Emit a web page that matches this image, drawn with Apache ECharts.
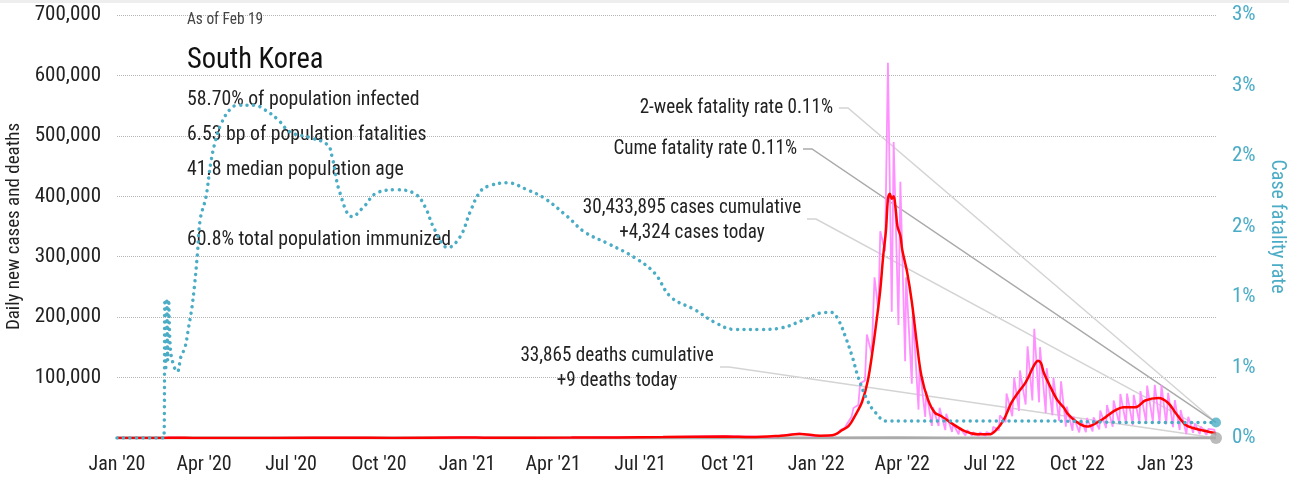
<!DOCTYPE html>
<html>
<head>
<meta charset="utf-8">
<title>South Korea COVID-19</title>
<script src="https://cdn.jsdelivr.net/npm/echarts@6/dist/echarts.min.js"></script>
<style>
  html, body { margin: 0; padding: 0; background: #fff; }
  #chart { width: 1289px; height: 480px; }
</style>
</head>
<body>
<div id="chart"></div>
<script>
// Quarter ticks along the date axis
const quarterTicks = ['2020-01-01','2020-04-01','2020-07-01','2020-10-01','2021-01-01','2021-04-01',
  '2021-07-01','2021-10-01','2022-01-01','2022-04-01','2022-07-01','2022-10-01','2023-01-01'];
const monthNames = ['Jan','Feb','Mar','Apr','May','Jun','Jul','Aug','Sep','Oct','Nov','Dec'];

// Daily new cases (weekly low / high readings)
const caseDates = ['2020-01-01','2020-02-17','2020-02-29','2020-03-15','2020-04-15','2020-06-01','2020-08-27','2020-10-01',
  '2020-11-30','2020-12-25','2021-02-01','2021-04-15','2021-07-15','2021-09-25','2021-11-15','2021-12-15','2021-12-27',
  '2022-01-03','2022-01-05','2022-01-10','2022-01-12','2022-01-17','2022-01-19','2022-01-24','2022-01-26',
  '2022-01-31','2022-02-02','2022-02-07','2022-02-09','2022-02-14','2022-02-16','2022-02-21','2022-02-23',
  '2022-02-28','2022-03-03','2022-03-07','2022-03-09','2022-03-14','2022-03-17','2022-03-21','2022-03-23',
  '2022-03-28','2022-03-30','2022-04-04','2022-04-05','2022-04-11','2022-04-12','2022-04-18','2022-04-19',
  '2022-04-25','2022-04-26','2022-05-02','2022-05-03','2022-05-09','2022-05-10','2022-05-16','2022-05-17',
  '2022-05-23','2022-05-24','2022-05-30','2022-05-31','2022-06-06','2022-06-08','2022-06-13','2022-06-14',
  '2022-06-20','2022-06-21','2022-06-27','2022-06-28','2022-07-04','2022-07-05','2022-07-11','2022-07-12',
  '2022-07-18','2022-07-19','2022-07-25','2022-07-27','2022-08-01','2022-08-02','2022-08-08','2022-08-10',
  '2022-08-15','2022-08-17','2022-08-22','2022-08-23','2022-08-29','2022-08-30','2022-09-05','2022-09-06',
  '2022-09-12','2022-09-14','2022-09-19','2022-09-20','2022-09-26','2022-09-27','2022-10-03','2022-10-05',
  '2022-10-10','2022-10-11','2022-10-17','2022-10-18','2022-10-24','2022-10-25','2022-10-31','2022-11-01',
  '2022-11-07','2022-11-08','2022-11-14','2022-11-15','2022-11-21','2022-11-22','2022-11-28','2022-11-29',
  '2022-12-05','2022-12-06','2022-12-12','2022-12-13','2022-12-19','2022-12-21','2022-12-26','2022-12-28',
  '2023-01-02','2023-01-04','2023-01-09','2023-01-11','2023-01-16','2023-01-17','2023-01-23','2023-01-25',
  '2023-01-30','2023-02-01','2023-02-06','2023-02-07','2023-02-13','2023-02-15','2023-02-21','2023-02-23'];
const dailyCases = [0,0,900,100,30,40,440,100,
  450,1240,300,700,1600,3270,2000,7850,3000,
  3800,4400,3000,4400,4100,5800,7500,13000,
  17000,22900,35300,49500,54600,90400,95300,171400,
  139600,266000,210000,342000,309000,621000,209000,490000,
  187000,424000,127000,266000,90000,210000,47000,118000,
  35000,77000,20000,51000,20000,50000,13000,40000,
  10000,24000,6000,17000,4400,13000,3800,9400,
  3400,9300,3400,9900,6200,18500,12700,37300,
  26300,73600,35900,100000,44700,111800,55300,151700,
  62100,180800,59000,150300,41400,115600,37500,99800,
  28200,93900,18800,51900,12100,35600,9300,30500,
  9600,33200,11000,34100,14200,45500,16400,54700,
  18600,62200,23000,72800,23100,73500,21400,71400,
  25700,77600,25600,86800,26600,88100,25500,87500,
  22700,74700,17900,62700,13200,46400,6400,35100,
  8700,24000,6400,19100,5200,15200,14000,4324];

// 7-day average of new cases
const avgDates = ['2020-01-01','2020-02-17','2020-03-03','2020-03-20','2020-05-01','2020-06-15','2020-08-30','2020-10-15',
  '2020-12-25','2021-01-25','2021-04-20','2021-07-25','2021-09-28','2021-10-25','2021-11-25','2021-12-15',
  '2022-01-05','2022-01-14','2022-01-21','2022-01-28','2022-02-04','2022-02-11','2022-02-18','2022-02-24',
  '2022-03-01','2022-03-06','2022-03-09','2022-03-12','2022-03-15','2022-03-17','2022-03-19','2022-03-21',
  '2022-03-23','2022-03-25','2022-03-27','2022-03-30','2022-04-01','2022-04-06','2022-04-11','2022-04-16',
  '2022-04-21','2022-04-28','2022-05-05','2022-05-12','2022-05-22','2022-06-06','2022-06-19','2022-07-01',
  '2022-07-08','2022-07-16','2022-07-24','2022-07-31','2022-08-08','2022-08-17','2022-08-21','2022-08-24',
  '2022-08-27','2022-09-03','2022-09-10','2022-09-17','2022-09-21','2022-09-30','2022-10-11','2022-10-21',
  '2022-10-31','2022-11-10','2022-11-18','2022-12-01','2022-12-11','2022-12-25','2023-01-04','2023-01-12',
  '2023-01-22','2023-01-29','2023-02-08','2023-02-16','2023-02-23'];
const avgCases = [0,0,580,120,10,45,350,80,
  1030,400,650,1500,2400,1500,3800,6600,
  3800,4000,6000,13000,20000,38000,60000,95000,
  145000,205000,245000,300000,345000,395000,404000,396000,
  400000,380000,350000,335000,311000,275000,225000,160000,
  103000,63000,42000,36000,25000,11000,6000,6000,
  13000,30000,58000,75000,92000,121000,128000,124000,
  108000,84000,63000,50000,40000,27000,19000,25000,
  35000,46000,51000,51000,62000,66000,58000,41000,
  22000,17000,13000,10000,8000];

// Case fatality rate, percent
const cfrDates = ['2020-01-01','2020-02-19','2020-02-20','2020-02-21','2020-02-22','2020-02-23','2020-02-24','2020-02-26',
  '2020-03-01','2020-03-04','2020-03-08','2020-03-12','2020-03-16','2020-03-19','2020-03-22','2020-03-25','2020-03-28',
  '2020-04-03','2020-04-08','2020-04-13','2020-04-19','2020-04-28','2020-05-06','2020-05-24','2020-06-03','2020-06-17',
  '2020-06-30','2020-07-21','2020-08-08','2020-08-13','2020-08-21','2020-09-03','2020-09-15','2020-09-29','2020-10-20',
  '2020-11-08','2020-11-18','2020-11-28','2020-12-12','2020-12-25','2021-01-04','2021-01-15','2021-01-25','2021-02-12',
  '2021-03-05','2021-03-23','2021-04-16','2021-05-04','2021-05-28','2021-06-25','2021-07-16','2021-08-02','2021-08-27',
  '2021-09-17','2021-10-08','2021-11-04','2021-11-25','2021-12-20','2022-01-10','2022-01-17','2022-01-24','2022-02-01',
  '2022-02-08','2022-02-14','2022-02-24','2022-03-04','2022-03-15','2022-03-29','2022-06-01','2022-09-01','2022-12-01',
  '2023-02-23'];
const cfrPct = [0,0,0.96,0.50,0.99,0.55,0.98,0.62,
  0.50,0.47,0.58,0.64,0.79,0.91,1.08,1.30,1.55,
  1.71,1.95,2.11,2.23,2.33,2.36,2.36,2.33,2.26,
  2.17,2.13,2.08,1.99,1.74,1.57,1.64,1.74,1.76,
  1.73,1.64,1.48,1.35,1.43,1.60,1.75,1.79,1.81,
  1.76,1.70,1.57,1.46,1.38,1.28,1.17,1.00,0.91,
  0.82,0.77,0.77,0.78,0.84,0.89,0.89,0.84,0.71,
  0.57,0.43,0.26,0.18,0.12,0.12,0.12,0.12,0.11,
  0.11];

// Daily new deaths
const deathDates = ['2020-01-01','2020-03-15','2020-09-01','2020-12-25','2021-06-01','2021-12-20','2022-03-25',
  '2022-05-15','2022-07-01','2022-08-25','2022-10-15','2022-12-25','2023-02-23'];
const dailyDeaths = [0,6,3,20,2,70,380,40,10,60,20,50,9];

const FONT = "'Liberation Sans Narrow', 'Roboto Condensed', 'DejaVu Sans Condensed', sans-serif";
const TEAL = '#4bacc6';

// 'YYYY-MM-DD' -> timestamp (UTC midnight)
function toTime(s) {
  const p = s.split('-').map(Number);
  return Date.UTC(p[0], p[1] - 1, p[2]);
}
function pairs(dates, vals) {
  return dates.map((d, i) => [toTime(d), vals[i]]);
}

const casesData = pairs(caseDates, dailyCases);
const avgData = pairs(avgDates, avgCases);
const cfrData = pairs(cfrDates, cfrPct);
const deathData = pairs(deathDates, dailyDeaths);
const lastCfr = cfrData[cfrData.length - 1];
const lastDeath = deathData[deathData.length - 1];
const lastCase = casesData[casesData.length - 1];

const chart = echarts.init(document.getElementById('chart'));

const option = {
  animation: false,
  backgroundColor: '#fff',
  textStyle: { fontFamily: FONT },
  grid: { left: 117, right: 73, top: 15, bottom: 42, containLabel: false, outerBoundsMode: 'none' },
  xAxis: {
    type: 'value',
    min: toTime('2020-01-01'),
    max: toTime('2023-02-23'),
    axisLine: { show: false },
    axisTick: { show: false },
    splitLine: { show: false },
    axisLabel: {
      customValues: quarterTicks.map(toTime),
      color: '#222',
      fontSize: 20,
      margin: 17,
      fontFamily: FONT,
      hideOverlap: false,
      showMinLabel: true,
      showMaxLabel: true,
      formatter: function (v) {
        const d = new Date(v);
        return monthNames[d.getUTCMonth()] + " '" + String(d.getUTCFullYear()).slice(2);
      }
    }
  },
  yAxis: [{
    type: 'value',
    min: 0, max: 700000, interval: 100000,
    axisLine: { show: false },
    axisTick: { show: false },
    splitLine: { lineStyle: { type: 'dotted', color: '#b5b5b5', width: 1 } },
    axisLabel: {
      color: '#222', fontSize: 21, margin: 16, fontFamily: FONT,
      formatter: v => v === 0 ? '' : v.toLocaleString('en-US')
    },
    name: 'Daily new cases and deaths',
    nameLocation: 'middle',
    nameRotate: 90,
    nameGap: 85,
    nameTextStyle: { color: '#222', fontSize: 19, fontFamily: FONT }
  }, {
    type: 'value',
    position: 'right',
    min: 0, max: 3, interval: 0.5,
    axisLine: { show: false },
    axisTick: { show: false },
    splitLine: { show: false },
    axisLabel: {
      color: TEAL, fontSize: 21, margin: 16, fontFamily: FONT,
      formatter: v => Math.round(v) + '%'
    },
    name: 'Case fatality rate',
    nameLocation: 'middle',
    nameRotate: -90,
    nameGap: 43,
    nameTextStyle: { color: TEAL, fontSize: 20, fontFamily: FONT }
  }],
  series: [{
    name: 'Daily deaths',
    type: 'line',
    data: deathData,
    symbol: 'none',
    lineStyle: { color: '#aaaaaa', width: 3 },
    z: 2
  }, {
    name: 'Daily cases',
    type: 'line',
    data: casesData,
    symbol: 'none',
    lineStyle: { color: '#ff90ff', width: 1.8 },
    z: 3
  }, {
    name: '7-day average',
    type: 'line',
    data: avgData,
    symbol: 'none',
    smooth: 0.35,
    lineStyle: { color: '#ff0000', width: 2.5 },
    z: 4
  }, {
    name: 'Case fatality rate',
    type: 'line',
    yAxisIndex: 1,
    data: cfrData,
    symbol: 'none',
    smooth: 0.4,
    lineStyle: { color: TEAL, width: 3.5, type: [0.01, 6.5], cap: 'round' },
    z: 5
  }, {
    name: 'Fatality rate now',
    type: 'scatter',
    yAxisIndex: 1,
    data: [lastCfr],
    symbol: 'circle',
    symbolSize: 10,
    itemStyle: { color: TEAL },
    z: 6
  }, {
    name: 'Deaths now',
    type: 'scatter',
    data: [lastDeath],
    symbol: 'circle',
    symbolSize: 12,
    itemStyle: { color: '#aaaaaa' },
    z: 6
  }]
};

chart.setOption(option);

// Notes and leader lines tied to the latest readings
const cfrPx = chart.convertToPixel({ xAxisIndex: 0, yAxisIndex: 1 }, lastCfr);
const deathPx = chart.convertToPixel({ xAxisIndex: 0, yAxisIndex: 0 }, lastDeath);
const casePx = chart.convertToPixel({ xAxisIndex: 0, yAxisIndex: 0 }, lastCase);

function note(text, x, y, align, size, color, sx) {
  return {
    type: 'text', x: x, y: y, z: 1,
    scaleX: sx || 0.91,
    style: {
      text: text, fill: color || '#222', fontSize: size || 21, fontFamily: FONT,
      align: align || 'left', verticalAlign: 'middle'
    }
  };
}
function leader(x0, y0, end, color) {
  return {
    type: 'polyline', z: 1,
    shape: { points: [[x0, y0], [x0 + 9, y0], end] },
    style: { stroke: color, lineWidth: 1.5, fill: null }
  };
}

chart.setOption({
  graphic: [
    { type: 'rect', shape: { x: 0, y: 0, width: 1289, height: 3 }, style: { fill: '#eeeeee' }, z: 0 },
    note('As of Feb 19', 187, 20, 'left', 16, '#444', 0.96),
    note('South Korea', 187, 60, 'left', 30, '#111', 0.95),
    note('58.70% of population infected', 187, 100, 'left', 21, '#222', 0.94),
    note('6.53 bp of population fatalities', 187, 135, 'left', 21, '#222', 0.94),
    note('41.8 median population age', 187, 170, 'left', 21, '#222', 0.94),
    note('60.8% total population immunized', 187, 240, 'left', 21, '#222', 0.94),
    note('2-week fatality rate 0.11%', 833, 108, 'right'),
    note('Cume fatality rate 0.11%', 797, 149, 'right'),
    note('30,433,895 cases cumulative', 692, 208, 'center'),
    note('+4,324 cases today', 692, 233, 'center'),
    note('33,865 deaths cumulative', 617, 356, 'center'),
    note('+9 deaths today', 617, 381, 'center'),
    leader(839, 108, cfrPx, '#d4d4d4'),
    leader(803, 149, cfrPx, '#aaaaaa'),
    leader(807, 219, casePx, '#d4d4d4'),
    leader(720, 367, deathPx, '#d4d4d4')
  ]
});
</script>
</body>
</html>
